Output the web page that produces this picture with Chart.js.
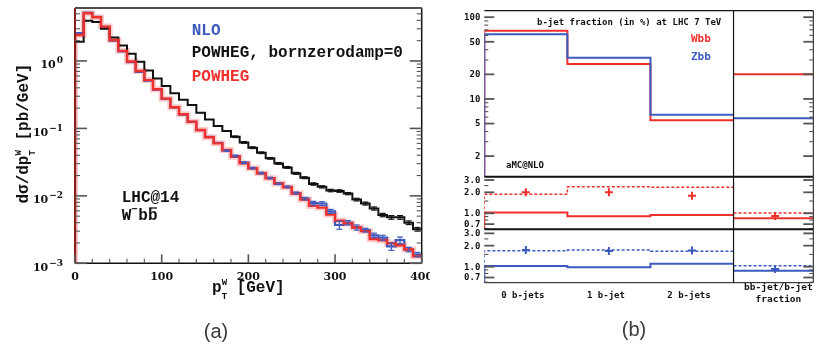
<!DOCTYPE html>
<html><head><meta charset="utf-8">
<script src="https://cdn.jsdelivr.net/npm/chart.js@4.4.1/dist/chart.umd.min.js"></script>
<style>
html,body{margin:0;padding:0;background:#fff;}
#wrap{position:relative;width:815px;height:346px;overflow:hidden;background:#fff;}
canvas{position:absolute;left:0;top:0;}
.lab{position:absolute;font-family:'Liberation Sans',Arial,sans-serif;font-size:20px;line-height:20px;color:#3a3a3a;transform:translateX(-50%);}
</style></head><body>
<div id="wrap">
<canvas id="cA" width="430" height="346"></canvas>
<canvas id="cB" width="815" height="346"></canvas>
<canvas id="cR1" width="815" height="346"></canvas>
<canvas id="cR2" width="815" height="346"></canvas>
<div class="lab" style="left:216px;top:321px">(a)</div>
<div class="lab" style="left:634px;top:319px">(b)</div>
</div>
<script>
// ---------------- Panel (a) data ----------------
const ptBinLow = [0,10,20,30,40,50,60,70,80,90,100,110,120,130,140,150,160,170,180,190,
                  200,210,220,230,240,250,260,270,280,290,300,310,320,330,340,350,360,370,380,390];
const ptMax = 400;
const powhegValues = [2.43,5.1,4.45,3.23,2.05,1.41,0.98,0.71,0.52,0.38,
                      0.276,0.206,0.162,0.126,0.0946,0.0738,0.060,0.0478,0.038,0.0303,
                      0.0256,0.0216,0.0182,0.0153,0.0134,0.0108,0.0088,0.0071,0.0067,0.0053,
                      0.0043,0.0039,0.0034,0.0030,0.00228,0.0022,0.00198,0.00185,0.0016,0.00127];
const nloValues = [2.58,5.2,4.5,3.2,2.0,1.39,0.96,0.69,0.51,0.375,
                   0.275,0.205,0.16,0.125,0.094,0.075,0.061,0.047,0.039,0.031,
                   0.0258,0.0218,0.0184,0.0152,0.0136,0.0110,0.0091,0.0078,0.0077,0.0059,
                   0.0037,0.0040,0.0034,0.0031,0.0026,0.0024,0.00178,0.0022,0.0016,0.00135];
const nloErrors = [0,0,0,0,0,0,0,0,0,0,
                   0,0,0,0,0,0,0,0.001,0.0012,0.0009,
                   0.0007,0.0006,0.0005,0.0005,0.0004,0.0004,0.0004,0.0005,0.0005,0.0004,
                   0.0005,0.0003,0.0003,0.0002,0.0002,0.0002,0.00022,0.00025,0.00012,0.0001];
const bzdValues = [1.93,3.96,3.79,3.0,2.22,1.69,1.28,0.97,0.72,0.55,
                   0.426,0.332,0.267,0.222,0.171,0.136,0.109,0.0915,0.0753,0.062,
                   0.0518,0.0436,0.036,0.0303,0.0264,0.0216,0.0186,0.015,0.0136,0.0120,
                   0.0118,0.0108,0.0088,0.0077,0.0065,0.0052,0.0048,0.0048,0.0040,0.0032];
const bzdErrors = [0,0,0,0,0,0,0,0,0,0,
                   0,0,0,0,0,0,0,0,0.002,0.0017,
                   0.0015,0.0012,0.001,0.0009,0.0008,0.0007,0.0006,0.0006,0.0005,0.0005,
                   0.0005,0.0004,0.0004,0.0004,0.00035,0.0003,0.0003,0.0003,0.00025,0.0002];
const pTMajorTicks = [0,100,200,300,400];
const pTMinorTicks = [20,40,60,80,120,140,160,180,220,240,260,280,320,340,360,380];
const yDecades = [1,0.1,0.01,0.001];
const yDecadeExp = ['0','\u22121','\u22122','\u22123'];

// ---------------- Panel (b) data ----------------
const bCategories = ['0 b-jets','1 b-jet','2 b-jets'];
const fractionLabel = ['bb-jet/b-jet','fraction'];
const wbbFraction = [68, 26.8, 5.5];
const zbbFraction = [62, 32, 6.4];
const wbbBBoverB = 20;
const zbbBBoverB = 5.8;
const wbbRatioSolid  = [1.03, 0.905, 0.945, 0.85];
const wbbRatioDashed = [1.87, 2.40, 2.36, 1.01];
const wbbRatioPoints = [2.0, 2.0, 1.79, 0.915];
const zbbRatioSolid  = [1.02, 0.98, 1.10, 0.876];
const zbbRatioDashed = [1.69, 1.73, 1.66, 1.03];
const zbbRatioPoints = [1.73, 1.68, 1.71, 0.927];
const mainTicksB = [2,5,10,20,50,100];
const ratioTicks = [0.7,1.0,2.0,3.0];
const ratioTickLabels = ['0.7','1.0','2.0','3.0'];

const RED = '#f0302c', BLUE = '#3d5bbf';
const MONO = "'Liberation Mono','DejaVu Sans Mono',monospace";
const BMONO = "'DejaVu Sans Mono',monospace";
const SERIF = "'DejaVu Serif',serif";

function line(ctx,x1,y1,x2,y2,col,w,dash){ctx.beginPath();ctx.setLineDash(dash||[]);ctx.strokeStyle=col;ctx.lineWidth=w;ctx.moveTo(x1,y1);ctx.lineTo(x2,y2);ctx.stroke();ctx.setLineDash([]);}
function text(ctx,s,x,y,font,col,align,base){ctx.font=font;ctx.fillStyle=col;ctx.textAlign=align||'left';ctx.textBaseline=base||'alphabetic';ctx.fillText(s,x,y);}

function histPoints(lows, vals, hi, floor){
  const pts=[{x:lows[0],y:floor}];
  lows.forEach((l,i)=>pts.push({x:l,y:vals[i]}));
  pts.push({x:hi,y:vals[vals.length-1]});
  return pts;
}
function catPoints(vals, floor){
  const pts=[{x:0,y:floor}];
  vals.forEach((v,i)=>pts.push({x:i,y:v}));
  pts.push({x:vals.length,y:vals[vals.length-1]});
  return pts;
}

const baseOpts = {responsive:false, animation:false, events:[],
  plugins:{legend:{display:false},tooltip:{enabled:false}},
  elements:{point:{radius:0},line:{tension:0}}};

// ---------------- Chart (a) ----------------
const YMIN_A = 1e-3;
const pluginA = {id:'pa', afterDraw(chart){
  const {ctx, chartArea:ca, scales:{x,y}} = chart;
  ctx.save();
  // error bars
  [[bzdValues,bzdErrors,'#111'],[nloValues,nloErrors,BLUE]].forEach(([vals,errs,col])=>{
    vals.forEach((v,i)=>{ const e=errs[i]; if(!e) return;
      const hi = (i+1<ptBinLow.length)?ptBinLow[i+1]:ptMax;
      const cx = x.getPixelForValue((ptBinLow[i]+hi)/2);
      const y1=y.getPixelForValue(v-e), y2=y.getPixelForValue(v+e);
      line(ctx,cx,y1,cx,y2,col,1.2); line(ctx,cx-3,y1,cx+3,y1,col,1.2); line(ctx,cx-3,y2,cx+3,y2,col,1.2);
    });
  });
  // frame
  line(ctx,ca.left,ca.top,ca.right,ca.top,'#111',1.5);
  line(ctx,ca.right,ca.top,ca.right,ca.bottom,'#111',1.5);
  line(ctx,ca.left,ca.bottom,ca.right,ca.bottom,'#111',1.5);
  line(ctx,ca.left,ca.top,ca.left,ca.bottom,'#8b1c1c',2);
  // y ticks
  yDecades.forEach((d,k)=>{
    const py=y.getPixelForValue(d);
    line(ctx,ca.left,py,ca.left+12,py,'#555',1.6);
    line(ctx,ca.right-12,py,ca.right,py,'#555',1.6);
    for(let m=2;m<10;m++){const v=m*d; if(v>y.max) break; const p=y.getPixelForValue(v);
      line(ctx,ca.left,p,ca.left+5,p,'#555',1.1); line(ctx,ca.right-5,p,ca.right,p,'#555',1.1);}
    ctx.font='bold 9px '+SERIF; const we=ctx.measureText(yDecadeExp[k]).width;
    text(ctx,yDecadeExp[k],63,py+2.5,'bold 9px '+SERIF,'#111','right');
    text(ctx,'10',63-we-1,py+7.5,'bold 11px '+SERIF,'#111','right');
  });
  // x ticks
  pTMajorTicks.forEach(v=>{const px=x.getPixelForValue(v);
    line(ctx,px,ca.bottom,px,ca.bottom-9,'#555',1.6);
    text(ctx,String(v),px,279.5,'bold 11px '+SERIF,'#111','center');});
  pTMinorTicks.forEach(v=>{const px=x.getPixelForValue(v); line(ctx,px,ca.bottom,px,ca.bottom-4.5,'#555',1.1);});
  // legend
  const F16='bold 16px '+MONO;
  text(ctx,'NLO',191.7,35,F16,BLUE);
  text(ctx,'POWHEG, bornzerodamp=0',191.7,57,F16,'#111');
  text(ctx,'POWHEG',191.7,81,F16,RED);
  text(ctx,'LHC@14',121.7,201.5,F16,'#111');
  // W^- b bbar
  text(ctx,'W',121.7,219.5,F16,'#111'); ctx.font=F16;
  let wx=121.7+ctx.measureText('W').width;
  text(ctx,'\u2212',wx,212,'bold 10px '+BMONO,'#111'); ctx.font='bold 10px '+BMONO; wx+=ctx.measureText('\u2212').width+1;
  ctx.font=F16; const wb=ctx.measureText('b').width;
  text(ctx,'b',wx,219.5,F16,'#111'); text(ctx,'b',wx+wb,219.5,F16,'#111');
  line(ctx,wx+wb+1,208,wx+2*wb-0.5,208,'#111',1.3);
  // x title
  ctx.font=F16; const w1=ctx.measureText('p').width; const w3=ctx.measureText(' [GeV]').width;
  ctx.font='bold 9px '+MONO; const ws=ctx.measureText('W').width;
  let x0=(ca.left+ca.right)/2-(w1+ws+w3)/2;
  text(ctx,'p',x0,292,F16,'#111');
  text(ctx,'W',x0+w1,285,'bold 9px '+MONO,'#111');
  text(ctx,'T',x0+w1,299,'bold 9px '+MONO,'#111');
  text(ctx,' [GeV]',x0+w1+ws,292,F16,'#111');
  // y title
  ctx.save(); ctx.translate(28,(ca.top+ca.bottom)/2-2); ctx.rotate(-Math.PI/2);
  ctx.font=F16; const t1=ctx.measureText('d\u03c3/dp').width, t3=ctx.measureText(' [pb/GeV]').width;
  let u=-(t1+ws+t3)/2;
  text(ctx,'d\u03c3/dp',u,0,F16,'#111');
  text(ctx,'W',u+t1,-7,'bold 9px '+MONO,'#111');
  text(ctx,'T',u+t1,7,'bold 9px '+MONO,'#111');
  text(ctx,' [pb/GeV]',u+t1+ws,0,F16,'#111');
  ctx.restore();
  ctx.restore();
}};

new Chart(document.getElementById('cA'),{
  type:'line',
  data:{datasets:[
    {data:histPoints(ptBinLow,powhegValues,ptMax,YMIN_A),borderColor:RED,borderWidth:2.4,stepped:'before',order:0},
    {data:histPoints(ptBinLow,bzdValues,ptMax,YMIN_A),borderColor:'#111',borderWidth:2,stepped:'before',order:1},
    {data:histPoints(ptBinLow,nloValues,ptMax,YMIN_A),borderColor:BLUE,borderWidth:2.2,stepped:'before',order:2},
    {data:histPoints(ptBinLow,powhegValues,ptMax,YMIN_A),borderColor:'rgba(255,110,110,0.35)',borderWidth:6,stepped:'before',order:3}
  ]},
  options:Object.assign({},baseOpts,{
    layout:{autoPadding:false,padding:{left:75,top:8,right:8.3,bottom:82.7}},
    scales:{x:{type:'linear',min:0,max:400,display:false},
            y:{type:'logarithmic',min:YMIN_A,max:6.1,display:false}}
  }),
  plugins:[pluginA]
});

// ---------------- Chart (b) ----------------
const XMAX_B = 3.96;
function panelPlugin(cfg){
  return {id:'pb'+cfg.name, afterDraw(chart){
    const {ctx, chartArea:ca, scales:{x,y}} = chart;
    ctx.save();
    line(ctx,ca.left,ca.top,ca.right,ca.top,'#111',cfg.topW);
    line(ctx,ca.right,ca.top,ca.right,ca.bottom,'#111',1);
    if(cfg.bottomW) line(ctx,ca.left,ca.bottom,ca.right,ca.bottom,'#111',cfg.bottomW);
    const xd=x.getPixelForValue(3);
    line(ctx,xd,ca.top,xd,ca.bottom,'#111',1.2);
    cfg.majors.forEach((v,i)=>{const py=y.getPixelForValue(v);
      line(ctx,ca.left,py,ca.left+10,py,'#555',1.8); line(ctx,ca.right-10,py,ca.right,py,'#555',1.8);
      text(ctx,cfg.labels[i],ca.left-4,py+0.5,'bold 9px '+BMONO,'#111','right','middle');});
    cfg.minors.forEach(v=>{const py=y.getPixelForValue(v);
      line(ctx,ca.left,py,ca.left+4,py,'#555',1.1); line(ctx,ca.right-4,py,ca.right,py,'#555',1.1);});
    if(cfg.extra) cfg.extra(ctx,ca,x,y);
    ctx.restore();
  }};
}
const mainMinorB=[3,4,6,7,8,9,30,40,60,70,80,90];
const ratioMinor=[0.6,0.8,0.9,1.5,2.5];

new Chart(document.getElementById('cB'),{
  type:'line',
  data:{datasets:[
    {data:catPoints(zbbFraction,1.12),borderColor:BLUE,borderWidth:2,stepped:'before',order:0},
    {data:catPoints(wbbFraction,1.12),borderColor:RED,borderWidth:2,stepped:'before',order:1},
    {data:[{x:3,y:zbbBBoverB},{x:XMAX_B,y:zbbBBoverB}],borderColor:BLUE,borderWidth:2,order:2},
    {data:[{x:3,y:wbbBBoverB},{x:XMAX_B,y:wbbBBoverB}],borderColor:RED,borderWidth:2,order:3}
  ]},
  options:Object.assign({},baseOpts,{
    layout:{autoPadding:false,padding:{left:484.3,top:10.7,right:1.7,bottom:169.3}},
    scales:{x:{type:'linear',min:0,max:XMAX_B,display:false},
            y:{type:'logarithmic',min:1.12,max:120,display:false}}
  }),
  plugins:[panelPlugin({name:'main',topW:1.2,bottomW:0,majors:mainTicksB,labels:mainTicksB.map(String),minors:mainMinorB,
    extra:(ctx,ca,x,y)=>{
      text(ctx,'b-jet fraction (in %) at LHC 7 TeV',537,23,'bold 9px '+BMONO,'#111','left','middle');
      text(ctx,'Wbb',691,39.5,'bold 11px '+BMONO,RED,'left','middle');
      text(ctx,'Zbb',691,57.5,'bold 11px '+BMONO,BLUE,'left','middle');
      text(ctx,'aMC@NLO',506,165.7,'bold 9px '+BMONO,'#111','left','middle');
      bCategories.forEach((c,i)=>text(ctx,c,x.getPixelForValue(i+0.5)-3,296,'bold 9px '+BMONO,'#111','center','middle'));
      const fx=x.getPixelForValue(3.54);
      text(ctx,fractionLabel[0],fx,287.5,'bold 9.5px '+BMONO,'#111','center','middle');
      text(ctx,fractionLabel[1],fx,299.5,'bold 9.5px '+BMONO,'#111','center','middle');
    }})]
});

function ratioChart(id, top, bottom, col, solid, dashed, pts, ymax, name){
  const n=solid.length-1;
  new Chart(document.getElementById(id),{
    type:'line',
    data:{datasets:[
      {type:'scatter',data:pts.map((v,i)=>({x:i+0.5,y:v})),borderColor:col,backgroundColor:col,pointStyle:'cross',pointRadius:4,borderWidth:2,order:0},
      {data:catPoints(solid.slice(0,n),0.59),borderColor:col,borderWidth:2,stepped:'before',order:1},
      {data:catPoints(dashed.slice(0,n),0.59),borderColor:col,borderWidth:1.5,borderDash:[3,2],stepped:'before',order:2},
      {data:[{x:3,y:solid[n]},{x:XMAX_B,y:solid[n]}],borderColor:col,borderWidth:2,order:3},
      {data:[{x:3,y:dashed[n]},{x:XMAX_B,y:dashed[n]}],borderColor:col,borderWidth:1.5,borderDash:[3,2],order:4}
    ]},
    options:Object.assign({},baseOpts,{
      layout:{autoPadding:false,padding:{left:484.3,top:top,right:1.7,bottom:bottom}},
      scales:{x:{type:'linear',min:0,max:XMAX_B,display:false},
              y:{type:'logarithmic',min:0.59,max:ymax,display:false}}
    }),
    plugins:[panelPlugin({name:name,topW:2,bottomW:name==='r2'?1:0,majors:ratioTicks,labels:ratioTickLabels,minors:ratioMinor})]
  });
}
ratioChart('cR1',176.7,116.7,RED,wbbRatioSolid,wbbRatioDashed,wbbRatioPoints,3.35,'r1');
ratioChart('cR2',229.3,63.3,BLUE,zbbRatioSolid,zbbRatioDashed,zbbRatioPoints,3.43,'r2');
</script>
</body></html>
